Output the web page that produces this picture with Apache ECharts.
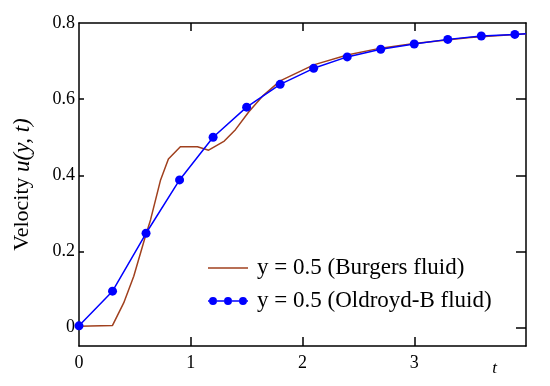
<!DOCTYPE html>
<html>
<head>
<meta charset="utf-8">
<script src="https://cdn.jsdelivr.net/npm/echarts@6/dist/echarts.min.js"></script>
<style>html,body{margin:0;padding:0;background:#fff}#c{width:550px;height:386px}</style>
</head>
<body>
<div id="c"></div>
<script>
var burgersName = 'y = 0.5 (Burgers fluid)';
var oldroydName = 'y = 0.5 (Oldroyd-B fluid)';
var burgers = [[0,0.004],[0.3,0.006],[0.4,0.065],[0.49,0.135],[0.593,0.239],[0.64,0.283],[0.73,0.388],[0.8,0.443],[0.907,0.475],[1.06,0.475],[1.16,0.466],[1.3,0.49],[1.4,0.52],[1.52,0.567],[1.65,0.61],[1.8,0.648],[2.1,0.69],[2.4,0.716],[2.7,0.734],[3.0,0.746],[3.5,0.762],[4.0,0.772]];
var oldroyd = [[0,0.005],[0.3,0.096],[0.6,0.248],[0.9,0.388],[1.2,0.5],[1.5,0.579],[1.8,0.639],[2.1,0.681],[2.4,0.711],[2.7,0.731],[3.0,0.745],[3.3,0.757],[3.6,0.766],[3.9,0.77]];
var oldroydEnd = [4.0,0.772];
var xLabels = [0,1,2,3];
var xTicks = [1,2,3];
var yLabels = [0,0.2,0.4,0.6,0.8];
var yTicksLeft = [0.2,0.4,0.6];
var yTicksRight = [0,0.2,0.4,0.6];
var tLabelPos = 3.72;

var serif = '"Liberation Serif","DejaVu Serif",serif';
var chart = echarts.init(document.getElementById('c'));
var oldData = oldroyd.map(function(p){return p;}).concat([{value: oldroydEnd, symbol: 'none'}]);
chart.setOption({
  animation: false,
  grid: {left: 79, top: 23, right: 24, bottom: 40},
  legend: {
    orient: 'vertical', left: 203, top: 251, itemGap: 9,
    itemWidth: 40, itemHeight: 10,
    textStyle: {fontFamily: serif, fontSize: 23, color: '#000', lineHeight: 24, padding: [0,0,0,4]},
    data: [
      {name: burgersName, icon: 'path://M0,4.3L40,4.3L40,5.7L0,5.7Z'},
      {name: oldroydName, icon: 'path://M0,4.3L1,4.3L1,5.7L0,5.7Z M9,4.3L16,4.3L16,5.7L9,5.7Z M24,4.3L31,4.3L31,5.7L24,5.7Z M39,4.3L40,4.3L40,5.7L39,5.7Z M1,5a4,4 0 1,0 8,0a4,4 0 1,0 -8,0Z M16,5a4,4 0 1,0 8,0a4,4 0 1,0 -8,0Z M31,5a4,4 0 1,0 8,0a4,4 0 1,0 -8,0Z'}
    ]
  },
  xAxis: [{
    type: 'value', min: 0, max: 4, position: 'bottom',
    axisLine: {show: true, onZero: false, lineStyle: {color: '#000', width: 1.5}},
    axisTick: {show: true, inside: true, length: 9, customValues: xTicks, lineStyle: {color: '#000', width: 1.5}},
    axisLabel: {customValues: xLabels.concat([tLabelPos]), fontFamily: serif, fontSize: 18, color: '#000', margin: 8,
      formatter: function(v){ return Math.abs(v - tLabelPos) < 1e-6 ? '{t|t}' : String(v); },
      rich: {t: {fontFamily: serif, fontStyle: 'italic', fontSize: 17, padding: [6,0,0,0]}}},
    splitLine: {show: false}
  },{
    type: 'value', min: 0, max: 4, position: 'top',
    axisLine: {show: true, onZero: false, lineStyle: {color: '#000', width: 1.5}},
    axisTick: {show: true, inside: true, length: 8, customValues: xTicks, lineStyle: {color: '#000', width: 1.5}},
    axisLabel: {show: false}, splitLine: {show: false}
  }],
  yAxis: [{
    type: 'value', min: -0.048, max: 0.8, position: 'left',
    name: 'Velocity {i|u(y, t)}', nameLocation: 'middle', nameGap: 45, nameRotate: 90,
    nameTextStyle: {fontFamily: serif, fontSize: 22, color: '#000', rich: {i: {fontFamily: serif, fontStyle: 'italic', fontSize: 23}}},
    axisLine: {show: true, onZero: false, lineStyle: {color: '#000', width: 1.5}},
    axisTick: {show: true, inside: true, length: 5, customValues: yTicksLeft, lineStyle: {color: '#000', width: 1.5}},
    axisLabel: {customValues: yLabels, fontFamily: serif, fontSize: 18, color: '#000', margin: 4},
    splitLine: {show: false}
  },{
    type: 'value', min: -0.048, max: 0.8, position: 'right',
    axisLine: {show: true, onZero: false, lineStyle: {color: '#000', width: 1.5}},
    axisTick: {show: true, inside: true, length: 10, customValues: yTicksRight, lineStyle: {color: '#000', width: 1.5}},
    axisLabel: {show: false}, splitLine: {show: false}
  }],
  series: [{
    name: burgersName, type: 'line', data: burgers, showSymbol: false, symbol: 'none',
    lineStyle: {color: '#a0401e', width: 1.5}, itemStyle: {color: '#a0401e'}, z: 2
  },{
    name: oldroydName, type: 'line', data: oldData, symbol: 'circle', symbolSize: 9,
    lineStyle: {color: '#0000ff', width: 1.5}, itemStyle: {color: '#0000ff'}, z: 3
  }]
});
</script>
</body>
</html>
